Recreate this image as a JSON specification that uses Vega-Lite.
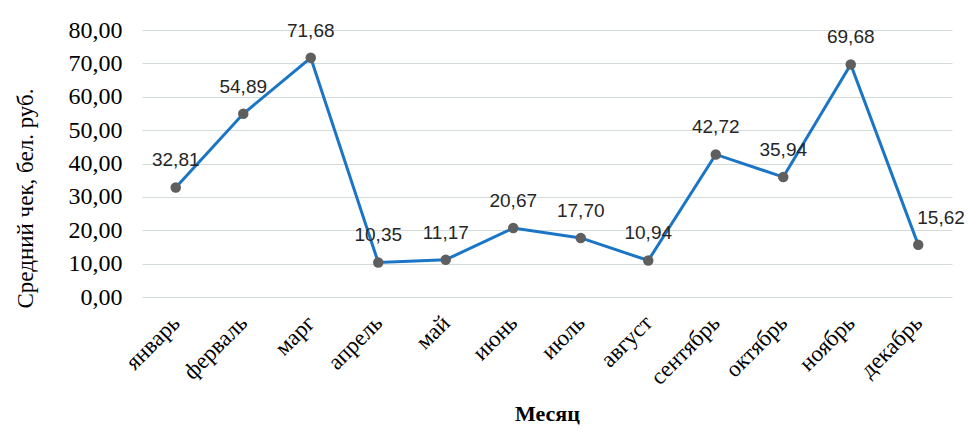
{
  "$schema": "https://vega.github.io/schema/vega-lite/v6.json",
  "autosize": "none",
  "width": 810,
  "height": 267,
  "padding": {"left": 142, "top": 30, "right": 17, "bottom": 144},
  "background": "white",
  "config": {
    "locale": {"number": {"decimal": ",", "thousands": " ", "grouping": [3], "currency": ["", ""]}},
    "view": {"stroke": null},
    "font": "Liberation Serif",
    "axis": {"labelFont": "Liberation Serif", "titleFont": "Liberation Serif"}
  },
  "data": {
    "values": [
      {"month": "январь", "value": 32.81},
      {"month": "ферваль", "value": 54.89},
      {"month": "марг", "value": 71.68},
      {"month": "апрель", "value": 10.35},
      {"month": "май", "value": 11.17},
      {"month": "июнь", "value": 20.67},
      {"month": "июль", "value": 17.70},
      {"month": "август", "value": 10.94},
      {"month": "сентябрь", "value": 42.72},
      {"month": "октябрь", "value": 35.94},
      {"month": "ноябрь", "value": 69.68},
      {"month": "декабрь", "value": 15.62}
    ]
  },
  "encoding": {
    "x": {
      "field": "month", "type": "nominal", "sort": null,
      "scale": {"paddingInner": 0, "paddingOuter": 0.5},
      "axis": {
        "title": "Месяц", "titleFontSize": 22, "titleFontWeight": "bold",
        "titleColor": "black", "titlePadding": 14,
        "labelAngle": -45, "labelAlign": "right", "labelBaseline": "middle",
        "labelFontSize": 23, "labelColor": "black", "labelPadding": 22,
        "ticks": false, "domain": false, "grid": false
      }
    },
    "y": {
      "field": "value", "type": "quantitative",
      "scale": {"domain": [0, 80]},
      "axis": {
        "title": "Средний чек, бел. руб.", "titleFontSize": 23, "titleFontWeight": "normal",
        "titleColor": "black", "titleX": -117, "titleY": 168, "titleAngle": -90,
        "titleAlign": "center", "titleBaseline": "middle",
        "values": [0, 10, 20, 30, 40, 50, 60, 70, 80], "format": ".2f",
        "labelFontSize": 24, "labelColor": "black", "labelPadding": 20,
        "ticks": false, "domain": false, "grid": true, "gridColor": "#d3dbdb", "gridWidth": 1
      }
    }
  },
  "layer": [
    {"mark": {"type": "line", "color": "#1B75C6", "strokeWidth": 3}},
    {"mark": {"type": "point", "filled": true, "color": "#5f5f5f", "size": 110, "opacity": 1}},
    {
      "transform": [{"filter": "datum.month !== 'декабрь'"}],
      "mark": {"type": "text", "dy": -27, "font": "Liberation Sans", "fontSize": 19, "color": "#262626"},
      "encoding": {"text": {"field": "value", "type": "quantitative", "format": ".2f"}}
    },
    {
      "transform": [{"filter": "datum.month === 'декабрь'"}],
      "mark": {"type": "text", "dy": -27, "dx": -1, "align": "left", "font": "Liberation Sans", "fontSize": 19, "color": "#262626"},
      "encoding": {"text": {"field": "value", "type": "quantitative", "format": ".2f"}}
    }
  ]
}
